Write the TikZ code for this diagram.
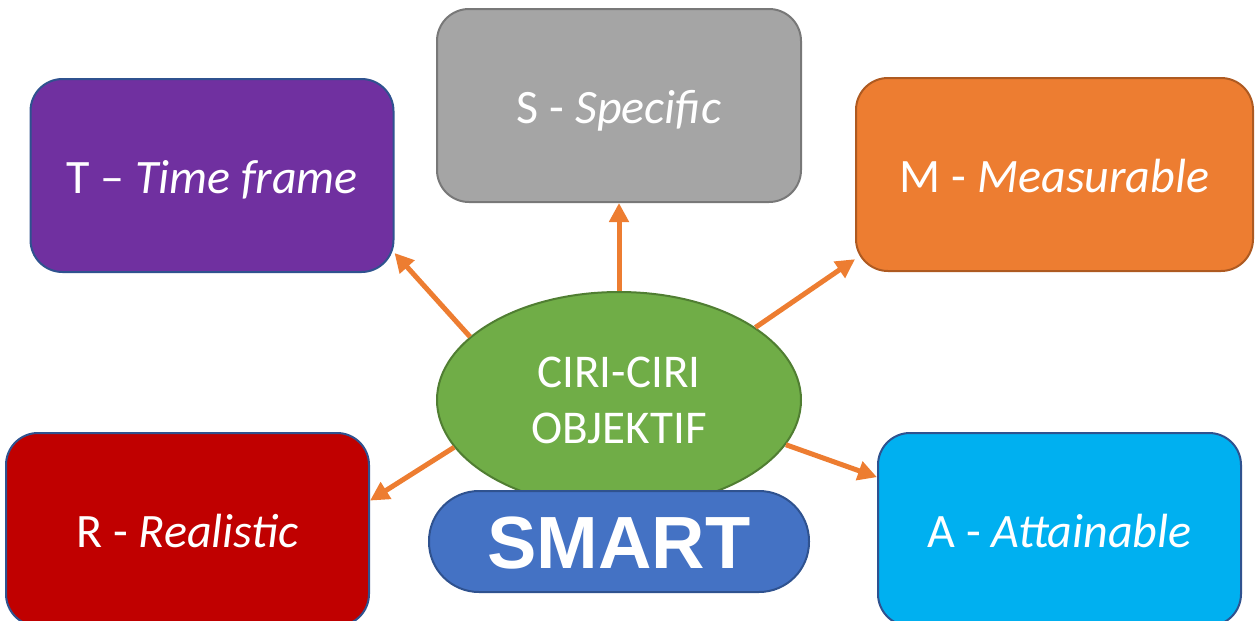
\documentclass[tikz,border=0pt]{standalone}
\usepackage{fontspec}
\setmainfont{Carlito}
\newfontfamily\smartfont{Liberation Sans}
\usetikzlibrary{arrows.meta,shapes.geometric}
\definecolor{purplef}{HTML}{7030A0}
\definecolor{greyf}{HTML}{A5A5A5}
\definecolor{greyd}{HTML}{787878}
\definecolor{orangef}{HTML}{ED7D31}
\definecolor{oranged}{HTML}{AE5A21}
\definecolor{redf}{HTML}{C00000}
\definecolor{cyanf}{HTML}{00B0F0}
\definecolor{bluef}{HTML}{4472C4}
\definecolor{blued}{HTML}{2F528F}
\definecolor{greenf}{HTML}{70AD47}
\definecolor{greend}{HTML}{507E32}
\begin{document}
\begin{tikzpicture}[x=1pt,y=-1pt,
  box/.style={rectangle, rounded corners=32pt, line width=2pt, minimum height=193pt,
    inner sep=0pt, text=white, font=\fontsize{48}{56}\selectfont, text height=35pt, text depth=0pt},
  link/.style={draw=orangef, line width=5pt, -{Triangle[length=19pt,width=19pt]}}]
\useasboundingbox (0,0) rectangle (1256,621);
\node[box, fill=purplef, draw=blued, minimum width=363pt] (T) at (212,175.5) {T – \textit{Time frame}};
\node[box, fill=greyf, draw=greyd, minimum width=364pt] (S) at (619,105.5) {S - \textit{Specific}};
\node[box, fill=orangef, draw=oranged, minimum width=397pt] (M) at (1054.5,174.5) {M - \textit{Measurable}};
\node[box, fill=redf, draw=blued, minimum width=363pt] (R) at (187.5,529.5) {R - \textit{Realistic}};
\node[box, fill=cyanf, draw=blued, minimum width=363pt] (A) at (1059.5,529.5) {A - \textit{Attainable}};
\node[ellipse, fill=greenf, draw=greend, line width=2pt, minimum width=364pt, minimum height=216pt,
  inner sep=0pt, text=white, align=center, font=\fontsize{47}{56}\selectfont] (E) at (619,400) {CIRI-CIRI\\OBJEKTIF};
\node[rectangle, rounded corners=50pt, fill=bluef, draw=blued, line width=2pt, minimum width=380pt,
  minimum height=101pt, inner sep=0pt, text=white, font=\smartfont\bfseries\fontsize{74}{80}\selectfont,
  text height=53pt, text depth=0pt] (SM) at (619,541.5) {SMART};
\draw[link] (E.157) -- (T.-23);
\draw[link] (E.90) -- (S.south);
\draw[link] (E.28) -- (M.203);
\draw[link] (E.196) -- (R.9);
\draw[link] (E.-15) -- (A.164);
\end{tikzpicture}
\end{document}
